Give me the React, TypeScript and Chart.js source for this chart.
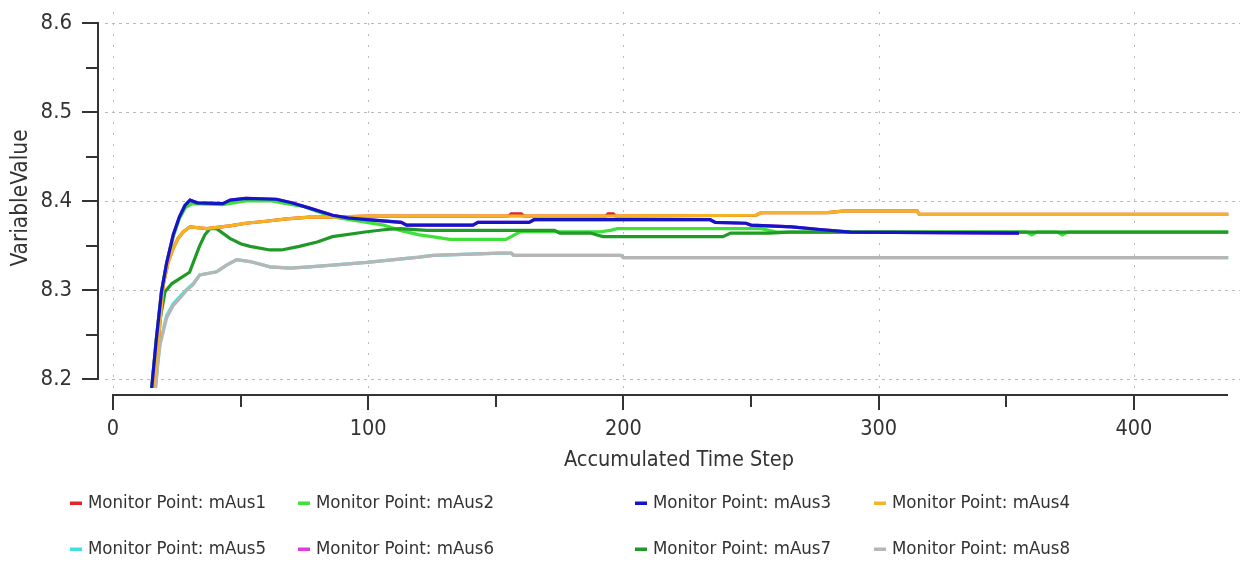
import { useEffect, useRef } from "react";
import { Chart, registerables } from "chart.js";

Chart.register(...registerables);

// Axis ticks
const yMajorTicks = [8.2, 8.3, 8.4, 8.5, 8.6];
const yMinorTicks = [8.25, 8.35, 8.45, 8.55];
const xMajorTicks = [0, 100, 200, 300, 400];
const xMinorTicks = [50, 150, 250, 350];
const xAxisEnd = 437;

const xTitle = "Accumulated Time Step";
const yTitle = "VariableValue";

// Monitor point series: accumulated time step and variable value
const mAus1Steps = [16, 18, 19.7, 21.5, 23.6, 25.5, 27.6, 30.2, 36.7, 45.8, 52, 59, 68, 77, 86, 99.5, 155, 156, 160, 161, 193, 194, 196, 197, 252, 254, 280, 287, 315, 316, 437];
const mAus1Values = [8.19, 8.25, 8.306, 8.33, 8.347, 8.358, 8.3655, 8.371, 8.369, 8.372, 8.375, 8.377, 8.38, 8.382, 8.382, 8.383, 8.383, 8.3855, 8.3855, 8.383, 8.383, 8.3855, 8.3855, 8.383, 8.384, 8.387, 8.387, 8.389, 8.389, 8.385, 8.385];

const mAus2Steps = [15, 17, 19, 21, 23.6, 26, 28.5, 31, 43, 52, 62, 68, 74.5, 86, 99.5, 106, 112.5, 120, 125, 132, 154, 159.5, 191, 195, 197.5, 254, 260, 358, 360, 362, 370, 372, 374, 437];
const mAus2Values = [8.185, 8.245, 8.298, 8.33, 8.36, 8.38, 8.393, 8.397, 8.396, 8.4, 8.4, 8.397, 8.394, 8.382, 8.376, 8.373, 8.367, 8.362, 8.36, 8.357, 8.357, 8.3655, 8.3655, 8.367, 8.369, 8.369, 8.365, 8.365, 8.362, 8.365, 8.365, 8.362, 8.365, 8.365];

const mAus3Steps = [15, 17, 19, 21, 23.6, 26, 28.2, 30.2, 33, 43, 46, 52, 64, 70, 77, 86, 92, 99.5, 113, 115, 141, 143, 163, 165, 234, 236, 248, 250, 266, 277, 289, 355];
const mAus3Values = [8.185, 8.245, 8.298, 8.33, 8.362, 8.382, 8.395, 8.401, 8.398, 8.397, 8.401, 8.403, 8.402, 8.398, 8.392, 8.384, 8.381, 8.379, 8.376, 8.373, 8.373, 8.376, 8.376, 8.379, 8.379, 8.376, 8.375, 8.373, 8.371, 8.368, 8.365, 8.364];

const mAus4Steps = [16, 18, 19.7, 21.5, 23.6, 25.5, 27.6, 30.2, 36.7, 45.8, 52, 59, 68, 77, 86, 99.5, 190, 252, 254, 280, 287, 315, 316, 437];
const mAus4Values = [8.19, 8.25, 8.306, 8.33, 8.347, 8.358, 8.3655, 8.371, 8.369, 8.372, 8.375, 8.377, 8.38, 8.382, 8.382, 8.383, 8.383, 8.384, 8.387, 8.387, 8.389, 8.389, 8.385, 8.385];

const mAus5Steps = [16.5, 17.5, 18.4, 21, 23.5, 26.3, 29, 31.4, 34, 40.6, 44.5, 48.4, 53.7, 61.5, 69.4, 77, 86, 99.5, 120, 125.5, 151.6, 156, 157, 199, 200, 437];
const mAus5Values = [8.185, 8.217, 8.24, 8.271, 8.284, 8.293, 8.301, 8.307, 8.317, 8.3205, 8.328, 8.334, 8.332, 8.326, 8.3245, 8.326, 8.328, 8.331, 8.337, 8.339, 8.3415, 8.3415, 8.339, 8.339, 8.3365, 8.3365];

const mAus6Steps = [15, 17, 19, 21, 23.6, 26, 28.2, 30.2, 33, 43, 46, 52, 64, 70, 77, 86, 92, 99.5, 113, 115, 141, 143, 163, 165, 234, 236, 248, 250, 266, 277, 289, 355];
const mAus6Values = [8.185, 8.245, 8.298, 8.33, 8.362, 8.382, 8.395, 8.401, 8.398, 8.397, 8.401, 8.403, 8.402, 8.398, 8.392, 8.384, 8.381, 8.379, 8.376, 8.373, 8.373, 8.376, 8.376, 8.379, 8.379, 8.376, 8.375, 8.373, 8.371, 8.368, 8.365, 8.364];

const mAus7Steps = [15.5, 18, 20.4, 23, 26.3, 30, 32, 34, 36, 38, 40.6, 45.8, 50, 53.7, 61.5, 66, 73, 80, 86, 99.5, 107, 112.5, 123, 173, 175, 187, 192, 239, 242, 257, 265, 437];
const mAus7Values = [8.185, 8.26, 8.298, 8.307, 8.313, 8.32, 8.335, 8.35, 8.362, 8.369, 8.369, 8.358, 8.352, 8.349, 8.345, 8.345, 8.349, 8.354, 8.36, 8.3655, 8.368, 8.369, 8.367, 8.367, 8.364, 8.364, 8.36, 8.36, 8.364, 8.364, 8.365, 8.365];

const mAus8Steps = [16.5, 17.5, 18.4, 21, 23.5, 26.3, 29, 31.4, 34, 40.6, 44.5, 48.4, 53.7, 61.5, 69.4, 77, 86, 99.5, 120, 125.5, 151.6, 156, 157, 199, 200, 437];
const mAus8Values = [8.185, 8.215, 8.238, 8.2685, 8.282, 8.291, 8.3, 8.306, 8.317, 8.3205, 8.328, 8.334, 8.332, 8.326, 8.3245, 8.326, 8.328, 8.331, 8.337, 8.339, 8.3415, 8.3415, 8.339, 8.339, 8.3365, 8.3365];

const seriesNames = [
  "Monitor Point: mAus1",
  "Monitor Point: mAus2",
  "Monitor Point: mAus3",
  "Monitor Point: mAus4",
  "Monitor Point: mAus5",
  "Monitor Point: mAus6",
  "Monitor Point: mAus7",
  "Monitor Point: mAus8",
];
const seriesColors = ["#e0262a", "#3ee03a", "#1414c8", "#f5b324", "#3ee0e0", "#e03ae0", "#1f9a26", "#b6b6b6"];
// lower value is drawn on top
const seriesOrder = [6, 4, 1, 2, 7, 8, 3, 5];
const seriesSteps = [mAus1Steps, mAus2Steps, mAus3Steps, mAus4Steps, mAus5Steps, mAus6Steps, mAus7Steps, mAus8Steps];
const seriesValues = [mAus1Values, mAus2Values, mAus3Values, mAus4Values, mAus5Values, mAus6Values, mAus7Values, mAus8Values];

const FONT = '"DejaVu Sans Condensed", "DejaVu Sans", sans-serif';
const TEXT_COLOR = "#333333";
const AXIS_COLOR = "#333333";
const GRID_COLOR = "#bababa";

const legendColumnsX = [88, 316, 653, 892];
const legendRowsY = [503, 549];

const frame = {
  id: "monitorFrame",
  beforeDatasetsDraw(chart: any) {
    const { ctx, chartArea, scales } = chart;
    const xs = scales.x;
    const ys = scales.y;
    ctx.save();
    ctx.strokeStyle = GRID_COLOR;
    ctx.lineWidth = 1;
    ctx.setLineDash([3, 4]);
    for (const v of yMajorTicks) {
      const py = Math.round(ys.getPixelForValue(v)) + 0.5;
      ctx.beginPath();
      ctx.moveTo(chartArea.left, py);
      ctx.lineTo(chartArea.right, py);
      ctx.stroke();
    }
    ctx.setLineDash([2, 9]);
    for (const v of xMajorTicks) {
      const px = Math.round(xs.getPixelForValue(v)) + 0.5;
      ctx.beginPath();
      ctx.moveTo(px, chartArea.top);
      ctx.lineTo(px, chartArea.bottom);
      ctx.stroke();
    }
    ctx.restore();
  },
  afterDraw(chart: any) {
    const { ctx, scales } = chart;
    const xs = scales.x;
    const ys = scales.y;
    ctx.save();
    ctx.setLineDash([]);
    ctx.strokeStyle = AXIS_COLOR;
    ctx.lineWidth = 2;

    // y axis, offset to the left of the plot
    const axisX = 98;
    const yTop = Math.round(ys.getPixelForValue(8.6));
    const yBottom = Math.round(ys.getPixelForValue(8.2));
    ctx.beginPath();
    ctx.moveTo(axisX, yTop);
    ctx.lineTo(axisX, yBottom);
    ctx.stroke();
    for (const v of yMajorTicks) {
      const py = Math.round(ys.getPixelForValue(v));
      ctx.beginPath();
      ctx.moveTo(axisX - 16, py);
      ctx.lineTo(axisX + 1, py);
      ctx.stroke();
    }
    for (const v of yMinorTicks) {
      const py = Math.round(ys.getPixelForValue(v));
      ctx.beginPath();
      ctx.moveTo(axisX - 12, py);
      ctx.lineTo(axisX, py);
      ctx.stroke();
    }

    // x axis, offset below the plot
    const axisY = 395;
    const x0 = Math.round(xs.getPixelForValue(0));
    const x1 = Math.round(xs.getPixelForValue(xAxisEnd));
    ctx.beginPath();
    ctx.moveTo(x0, axisY);
    ctx.lineTo(x1, axisY);
    ctx.stroke();
    for (const v of xMajorTicks) {
      const px = Math.round(xs.getPixelForValue(v));
      ctx.beginPath();
      ctx.moveTo(px, axisY - 1);
      ctx.lineTo(px, axisY + 15);
      ctx.stroke();
    }
    for (const v of xMinorTicks) {
      const px = Math.round(xs.getPixelForValue(v));
      ctx.beginPath();
      ctx.moveTo(px, axisY);
      ctx.lineTo(px, axisY + 12);
      ctx.stroke();
    }

    // tick labels
    ctx.fillStyle = TEXT_COLOR;
    ctx.font = `22px ${FONT}`;
    ctx.textAlign = "right";
    ctx.textBaseline = "middle";
    for (const v of yMajorTicks) {
      ctx.fillText(v.toFixed(1), 72, ys.getPixelForValue(v));
    }
    ctx.textAlign = "center";
    ctx.font = `21.5px ${FONT}`;
    for (const v of xMajorTicks) {
      ctx.fillText(String(v), xs.getPixelForValue(v), 429);
    }

    // axis titles
    ctx.fillText(xTitle, 679, 460);
    ctx.save();
    ctx.font = `22.5px ${FONT}`;
    ctx.translate(21, 198);
    ctx.rotate(-Math.PI / 2);
    ctx.fillText(yTitle, 0, 0);
    ctx.restore();

    // legend, four columns by two rows
    ctx.textAlign = "left";
    ctx.font = `18.5px ${FONT}`;
    seriesNames.forEach((name, i) => {
      const col = i % 4;
      const row = Math.floor(i / 4);
      const tx = legendColumnsX[col];
      const ty = legendRowsY[row];
      ctx.fillStyle = seriesColors[i];
      ctx.fillRect(tx - 18, ty - 1.5, 12, 3.5);
      ctx.fillStyle = TEXT_COLOR;
      ctx.fillText(name, tx, ty);
    });
    ctx.restore();
  },
};

export default function App() {
  const canvasRef = useRef<HTMLCanvasElement | null>(null);

  useEffect(() => {
    const canvas = canvasRef.current;
    if (!canvas) return;
    const datasets = seriesNames.map((name, i) => ({
      label: name,
      data: seriesSteps[i].map((s, j) => ({ x: s, y: seriesValues[i][j] })),
      borderColor: seriesColors[i],
      backgroundColor: seriesColors[i],
      borderWidth: 3.2,
      pointRadius: 0,
      tension: 0,
      fill: false,
      clip: 0,
      order: seriesOrder[i],
    }));
    const chart = new Chart(canvas, {
      type: "line",
      data: { datasets },
      options: {
        responsive: false,
        animation: false,
        layout: { padding: { left: 105, right: 4, top: 12, bottom: 176 } },
        scales: {
          x: { type: "linear", min: -3.13, max: 441.6, display: false },
          y: { type: "linear", min: 8.1899, max: 8.6124, display: false },
        },
        plugins: {
          legend: { display: false },
          tooltip: { enabled: false },
        },
      },
      plugins: [frame],
    });
    return () => chart.destroy();
  }, []);

  return (
    <div style={{ position: "fixed", left: 0, top: 0, width: 1244, height: 564, background: "#ffffff" }}>
      <canvas ref={canvasRef} width={1244} height={564} />
    </div>
  );
}
